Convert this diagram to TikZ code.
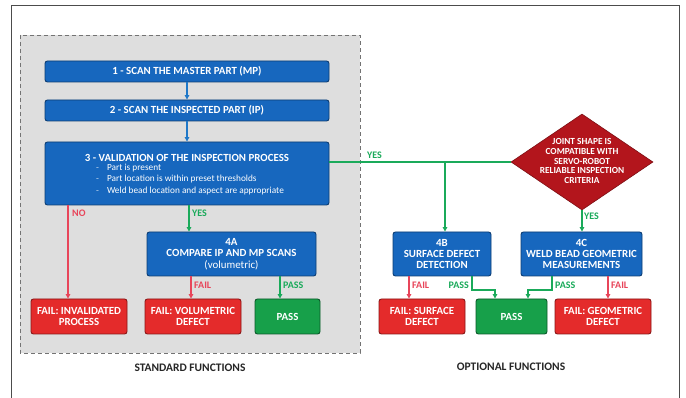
\documentclass[tikz,border=0pt]{standalone}
\usepackage{fontspec}
\setmainfont{Carlito}
\usetikzlibrary{arrows.meta,shapes.geometric}
\definecolor{bfill}{HTML}{1767BE}
\definecolor{bdraw}{HTML}{0C3D74}
\definecolor{rfill}{HTML}{E42B2B}
\definecolor{rdraw}{HTML}{8A1717}
\definecolor{gfill}{HTML}{17A04A}
\definecolor{gdraw}{HTML}{0B5A2A}
\definecolor{dfill}{HTML}{B3151C}
\definecolor{gline}{HTML}{1AAA5A}
\definecolor{rline}{HTML}{E8455A}
\definecolor{bline}{HTML}{1F78C8}
\definecolor{regbg}{HTML}{DEDEDE}
\begin{document}
\begin{tikzpicture}[x=1pt,y=-1pt,
  box/.style={rounded corners=2.5pt, line width=0.9pt, text=white, font=\bfseries\fontsize{10.9}{11.4}\selectfont, align=center, inner sep=0pt},
  bluebox/.style={box, fill=bfill, draw=bdraw},
  redbox/.style={box, fill=rfill, draw=rdraw},
  greenbox/.style={box, fill=gfill, draw=gdraw},
  tip/.style={-{Triangle[length=4.5pt,width=4.5pt]}},
  bconn/.style={tip, draw=bline, line width=1.3pt},
  gconn/.style={draw=gline, line width=1.3pt},
  rconn/.style={tip, draw=rline, line width=1.3pt},
  glab/.style={text=gline, font=\bfseries\fontsize{10}{11}\selectfont, inner sep=1pt},
  rlab/.style={text=rline, font=\bfseries\fontsize{10}{11}\selectfont, inner sep=1pt},
  title/.style={font=\bfseries\fontsize{11.5}{12}\selectfont, text=black!85},
  intext/.style={text=white, inner sep=0pt}
]
\useasboundingbox (0,0) rectangle (686,398);
\fill[white] (0,0) rectangle (686,398);
% outer frame
\draw[black!70, line width=0.8pt] (11,398) -- (11,5) -- (679,5) -- (679,398);
% standard region
\draw[fill=regbg, draw=black!55, dash pattern=on 4pt off 3pt, line width=0.9pt] (20,35) rectangle (360,353);

% nodes
\node[bluebox, minimum width=284pt, minimum height=21pt] (b1) at (187,71.5) {1 - SCAN THE MASTER PART (MP)};
\node[bluebox, minimum width=284pt, minimum height=21pt] (b2) at (187,110.5) {2 - SCAN THE INSPECTED PART (IP)};
\node[bluebox, minimum width=284pt, minimum height=63pt] (b3) at (187,173.5) {};
\node[intext, font=\bfseries\fontsize{10.9}{11.4}\selectfont] (b3t) at ([yshift=15.5pt]b3.center) {3 - VALIDATION OF THE INSPECTION PROCESS};
\node[intext, anchor=west, align=left, font=\fontsize{9.3}{11.3}\selectfont] (b3b) at ([xshift=-91pt,yshift=-6pt]b3.center)
  {{\color{white!75!bfill}-}\hspace{8pt}Part is present\\
   {\color{white!75!bfill}-}\hspace{8pt}Part location is within preset thresholds\\
   {\color{white!75!bfill}-}\hspace{8pt}Weld bead location and aspect are appropriate};
\node[bluebox, minimum width=169pt, minimum height=44pt] (b4a) at (231.5,254) {4A\\COMPARE IP AND MP SCANS\\{\mdseries (volumetric)}};
\node[redbox, minimum width=96pt, minimum height=35pt] (f1) at (79,316.5) {FAIL: INVALIDATED\\PROCESS};
\node[redbox, minimum width=96pt, minimum height=35pt] (f2) at (193,316.5) {FAIL: VOLUMETRIC\\DEFECT};
\node[greenbox, minimum width=65pt, minimum height=35pt] (p1) at (287.5,316.5) {PASS};

\node[diamond, fill=dfill, draw=dfill!70!black, line width=0.6pt, minimum width=142pt, minimum height=96pt, inner sep=0pt] (dia) at (582,162) {};
\node[text=white, font=\bfseries\fontsize{9.3}{9.7}\selectfont, align=center] (diat) at ([yshift=1pt]dia.center) {JOINT SHAPE IS\\COMPATIBLE WITH\\SERVO-ROBOT\\RELIABLE INSPECTION\\CRITERIA};

\node[bluebox, minimum width=98pt, minimum height=44pt] (b4b) at (442,254) {4B\\SURFACE DEFECT\\DETECTION};
\node[bluebox, minimum width=121pt, minimum height=44pt] (b4c) at (581.5,254) {4C\\WELD BEAD GEOMETRIC\\MEASUREMENTS};
\node[redbox, minimum width=86pt, minimum height=35pt] (f3) at (422,316.5) {FAIL: SURFACE\\DEFECT};
\node[greenbox, minimum width=71pt, minimum height=35pt] (p2) at (511.5,316.5) {PASS};
\node[redbox, minimum width=96pt, minimum height=35pt] (f4) at (603,316.5) {FAIL: GEOMETRIC\\DEFECT};

\node[title] (t1) at (190,368) {STANDARD FUNCTIONS};
\node[title] (t2) at (511,367) {OPTIONAL FUNCTIONS};

% connectors
\draw[bconn] (b1.south) -- (b2.north);
\draw[bconn] (b2.south) -- (b3.north);
\draw[rconn] (b3.south -| f1.north) ++(-11,0) coordinate (n0) -- (n0 |- f1.north);
\node[rlab, anchor=west] (lno) at (71,213) {NO};
\draw[gconn, tip] (b3.south -| b4a.north) ++(-42.5,0) coordinate (y0) -- (y0 |- b4a.north);
\node[glab, anchor=west] (lyes) at (191,213) {YES};
\draw[rconn] (b4a.south -| f2.north) ++(-2,0) coordinate (fa) -- (fa |- f2.north);
\node[rlab, anchor=west] (lfa) at (193,285) {FAIL};
\draw[gconn, tip] (b4a.south -| p1.north) ++(-7.5,0) coordinate (pa) -- (pa |- p1.north);
\node[glab, anchor=west] (lpa) at (282,285) {PASS};

% yes line to diamond
\coordinate (ys) at (b3.east |- dia.west);
\draw[gconn] (ys) -- (dia.west);
\coordinate (j) at (b4b.north |- dia.west);
\draw[gconn, tip] ([xshift=3pt]j) -- ([xshift=3pt]b4b.north);
\node[glab, anchor=west] (lyes2) at (366,155) {YES};
\draw[gconn, tip] (dia.south) -- (dia.south |- b4c.north);
\node[glab, anchor=west] (lyes3) at (583,216) {YES};

% 4B outputs
\draw[rconn] (b4b.south -| f3.north) ++(-13,0) coordinate (fb) -- (fb |- f3.north);
\node[rlab, anchor=west] (lfb) at (411,285) {FAIL};
\coordinate (pb0) at (472,0);
\coordinate (pb1) at (495,0);
\draw[gconn, tip] (pb0 |- b4b.south) -- (472,290) -- (495,290) -- (pb1 |- p2.north);
\node[glab, anchor=east] (lpb) at (470,285) {PASS};
% 4C outputs
\coordinate (pc0) at (552,0);
\coordinate (pc1) at (528,0);
\draw[gconn, tip] (pc0 |- b4c.south) -- (552,290) -- (528,290) -- (pc1 |- p2.north);
\node[glab, anchor=west] (lpc) at (554,285) {PASS};
\draw[rconn] (b4c.south -| f4.north) ++(5,0) coordinate (fc) -- (fc |- f4.north);
\node[rlab, anchor=west] (lfc) at (610,285) {FAIL};
\end{tikzpicture}
\end{document}
